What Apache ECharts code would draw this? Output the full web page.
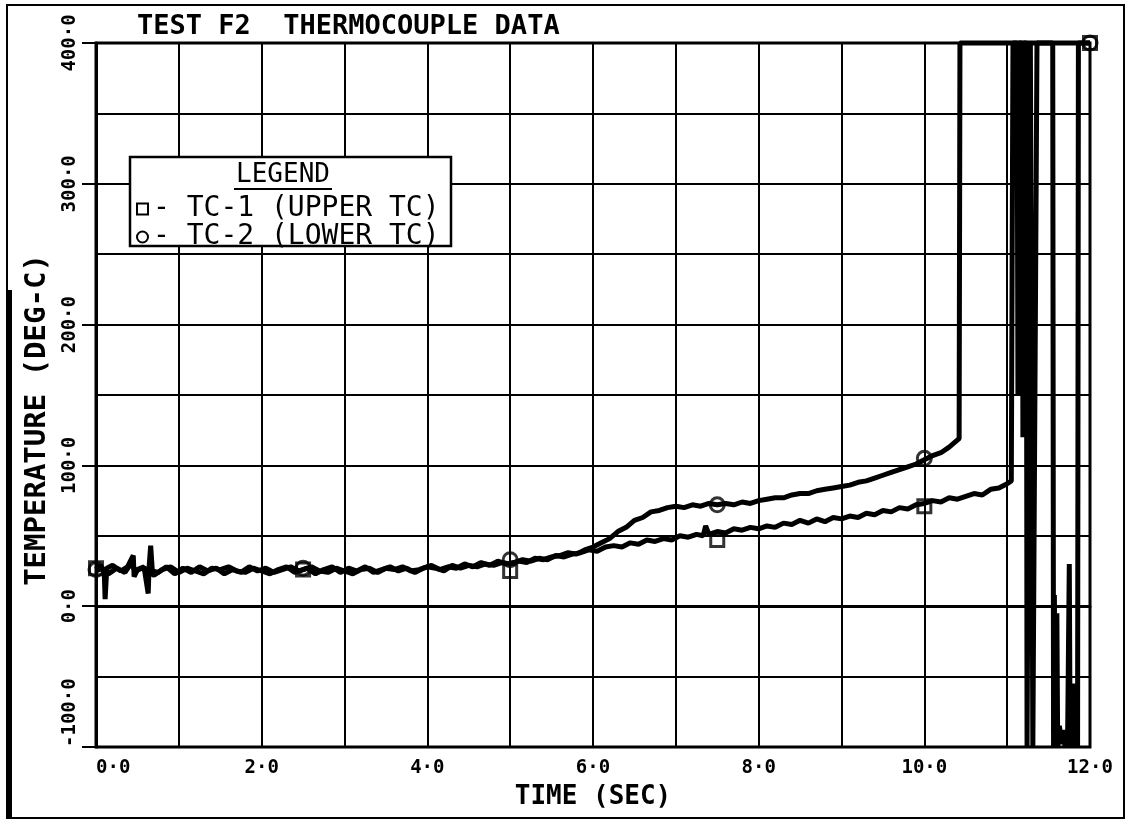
<!DOCTYPE html>
<html>
<head>
<meta charset="utf-8">
<title>TEST F2 THERMOCOUPLE DATA</title>
<script src="https://cdn.jsdelivr.net/npm/echarts@6/dist/echarts.min.js"></script>
<style>
  html, body { margin: 0; padding: 0; background: #fff; }
  #chart { width: 1129px; height: 822px; }
</style>
</head>
<body>
<div id="chart"></div>
<script>
// ---- Thermocouple readings: [time (s), temperature (deg C)] ----
// TC-1 (upper thermocouple)
const tc1Flat = [[0,26],[0.05,29],[0.1,24],[0.11,5],[0.13,27],[0.2,29],[0.3,25],[0.38,28],[0.45,36],[0.46,21],[0.5,26],[0.58,28],[0.63,9],[0.64,27],[0.66,43],[0.68,25],[0.75,24],[0.85,28],[0.95,23],[1.05,27],[1.15,24],[1.25,28],[1.35,25],[1.45,27],[1.55,23],[1.65,26],[1.75,24],[1.85,28],[1.95,25],[2.05,27],[2.15,24],[2.25,26],[2.35,28],[2.45,25],[2.55,27],[2.65,23],[2.75,26],[2.85,28],[2.95,24],[3.05,27],[3.15,25],[3.25,28],[3.35,24],[3.45,26],[3.55,28],[3.65,25],[3.75,27],[3.85,24],[3.95,27],[4.05,29],[4.15,26],[4.25,28],[4.35,27],[4.45,30],[4.55,28],[4.65,31],[4.75,29],[4.85,32],[4.95,30]];
const tc1Rise = [[5.05,31],[5.15,33],[5.25,32],[5.35,34],[5.45,33],[5.55,36],[5.65,35],[5.75,37],[5.85,38],[5.95,40],[6.05,39],[6.15,42],[6.25,43],[6.35,42],[6.45,45],[6.55,44],[6.65,47],[6.75,46],[6.85,48],[6.95,47],[7.05,50],[7.15,49],[7.25,51],[7.33,50],[7.36,57],[7.4,51],[7.5,53],[7.6,52],[7.7,55],[7.8,54],[7.9,56],[8.0,55],[8.1,57],[8.2,56],[8.3,59],[8.4,58],[8.5,61],[8.6,59],[8.7,62],[8.8,60],[8.9,63],[9.0,62],[9.1,64],[9.2,63],[9.3,66],[9.4,65],[9.5,68],[9.6,67],[9.7,70],[9.8,69],[9.9,72],[10.0,73],[10.1,75],[10.2,74],[10.3,77],[10.4,76],[10.5,78],[10.6,80],[10.7,79],[10.8,83],[10.9,84],[11.0,87],[11.05,89]];
const tc1Burst = [[11.07,400],[11.12,400],[11.13,150],[11.14,400],[11.18,400],[11.19,120],[11.2,400],[11.23,400],[11.24,-100],[11.26,-100],[11.28,400],[11.3,400],[11.31,-100],[11.33,-100],[11.36,400],[11.55,400],[11.56,-100],[11.57,8],[11.58,-100],[11.6,-5],[11.61,-100],[11.63,-85],[11.66,-98],[11.68,-88],[11.7,-100],[11.73,-92],[11.75,30],[11.76,-100],[11.79,-55],[11.81,-100],[11.84,-92],[11.85,-100],[11.86,400],[12,400]];
const tc1Marks = [[0,27],[2.5,26],[5,25],[7.5,47],[10,71],[12,400]];

// TC-2 (lower thermocouple)
const tc2Flat = [[0,25],[0.08,27],[0.15,23],[0.25,27],[0.35,24],[0.42,30],[0.48,25],[0.55,27],[0.7,22],[0.8,26],[0.9,28],[1.0,24],[1.1,27],[1.2,25],[1.3,23],[1.4,27],[1.5,26],[1.6,28],[1.7,25],[1.8,24],[1.9,27],[2.0,25],[2.1,23],[2.2,26],[2.3,28],[2.4,24],[2.5,26],[2.6,28],[2.7,25],[2.8,24],[2.9,27],[3.0,25],[3.1,23],[3.2,26],[3.3,27],[3.4,24],[3.5,27],[3.6,26],[3.7,28],[3.8,25],[3.9,26],[4.0,28],[4.1,27],[4.2,25],[4.3,29],[4.4,27],[4.5,29],[4.6,28],[4.7,30],[4.8,29],[4.9,31],[5.0,30]];
const tc2Rise = [[5.1,32],[5.2,31],[5.3,34],[5.4,33],[5.5,35],[5.6,36],[5.7,38],[5.8,37],[5.9,40],[6.0,42],[6.1,45],[6.2,48],[6.3,53],[6.4,56],[6.5,61],[6.6,63],[6.7,67],[6.8,68],[6.9,70],[7.0,71],[7.1,70],[7.2,72],[7.3,71],[7.4,73],[7.5,72],[7.6,73],[7.7,72],[7.8,74],[7.9,73],[8.0,75],[8.1,76],[8.2,77],[8.3,77],[8.4,79],[8.5,80],[8.6,80],[8.7,82],[8.8,83],[8.9,84],[9.0,85],[9.1,86],[9.2,88],[9.3,89],[9.4,91],[9.5,93],[9.6,95],[9.7,97],[9.8,99],[9.9,101],[10.0,104],[10.1,107],[10.2,109],[10.3,113],[10.38,117],[10.42,119]];
const tc2Burst = [[10.43,400],[12,400]];
const tc2Marks = [[0,26],[2.5,27],[5,33],[7.5,72],[10,105],[12,400]];

// ---- Axis tick labels ----
const xTickLabels = ['0·0','2·0','4·0','6·0','8·0','10·0','12·0'];
const yTickLabels = ['-100·0','0·0','100·0','200·0','300·0','400·0'];
const seriesNames = ['TC-1 (UPPER TC)', 'TC-2 (LOWER TC)'];

const X_MIN = 0, X_MAX = 12, X_STEP = 2;
const Y_MIN = -100, Y_MAX = 400, Y_STEP = 100;
const FONT = 'DejaVu Sans Mono';
const INK = '#000';

const tc1 = tc1Flat.concat(tc1Rise, tc1Burst);
const tc2 = tc2Flat.concat(tc2Rise, tc2Burst);

const chart = echarts.init(document.getElementById('chart'), null, { renderer: 'canvas' });

const gridLine = { show: true, lineStyle: { color: INK, width: 2 } };

const option = {
  animation: false,
  backgroundColor: '#fff',
  title: {
    text: 'TEST F2  THERMOCOUPLE DATA',
    left: 132, top: 8,
    textStyle: { fontFamily: FONT, fontSize: 27, fontWeight: 'bold', color: INK }
  },
  grid: {
    left: 96, right: 39, top: 43, bottom: 75,
    show: true, borderColor: INK, borderWidth: 3
  },
  xAxis: {
    type: 'value', min: X_MIN, max: X_MAX, interval: X_STEP,
    name: 'TIME (SEC)', nameLocation: 'middle', nameGap: 37,
    nameTextStyle: { fontFamily: FONT, fontSize: 26, fontWeight: 'bold', color: INK },
    axisLine: { show: true, lineStyle: { color: INK, width: 3 } },
    axisTick: { show: true, length: 10, lineStyle: { color: INK, width: 2 } },
    axisLabel: {
      fontFamily: FONT, fontSize: 19, fontWeight: 'bold', color: INK, margin: 12,
      alignMinLabel: 'left',
      formatter: v => xTickLabels[Math.round((v - X_MIN) / X_STEP)]
    },
    splitLine: gridLine,
    minorTick: { show: false, splitNumber: 2 },
    minorSplitLine: gridLine
  },
  yAxis: {
    type: 'value', min: Y_MIN, max: Y_MAX, interval: Y_STEP,
    name: 'TEMPERATURE (DEG-C)', nameLocation: 'middle', nameGap: 44,
    nameTextStyle: { fontFamily: FONT, fontSize: 29, fontWeight: 'bold', color: INK, padding: [0, 50, 0, 0] },
    axisLine: { show: true, lineStyle: { color: INK, width: 3 } },
    axisTick: { show: true, length: 14, lineStyle: { color: INK, width: 2 } },
    axisLabel: {
      rotate: 90, fontFamily: FONT, fontSize: 19, fontWeight: 'bold', color: INK, margin: 16,
      alignMinLabel: 'left',
      formatter: v => yTickLabels[Math.round((v - Y_MIN) / Y_STEP)]
    },
    splitLine: gridLine,
    minorTick: { show: false, splitNumber: 2 },
    minorSplitLine: gridLine
  },
  legend: {
    orient: 'vertical', left: 136, top: 195, z: 10, padding: 0,
    itemWidth: 11, itemHeight: 11, itemGap: 0,
    data: [
      { name: seriesNames[0], icon: 'rect' },
      { name: seriesNames[1], icon: 'circle' }
    ],
    itemStyle: { color: '#fff', borderColor: INK, borderWidth: 2 },
    formatter: n => '- ' + n,
    textStyle: { fontFamily: FONT, fontSize: 28, color: INK, lineHeight: 27 },
    selectedMode: false
  },
  graphic: [
    // page frame and the heavy binding edge on the left
    { type: 'rect', z: 0, shape: { x: 7, y: 5, width: 1117, height: 813 },
      style: { fill: 'none', stroke: INK, lineWidth: 2 } },
    { type: 'line', z: 0, shape: { x1: 9, y1: 290, x2: 9, y2: 818 },
      style: { stroke: INK, lineWidth: 6 } },
    // legend panel
    { type: 'rect', z: 3, shape: { x: 130, y: 157, width: 321, height: 89 },
      style: { fill: '#fff', stroke: INK, lineWidth: 2.5 } },
    { type: 'text', z: 4, x: 283, y: 175,
      style: { text: 'LEGEND', fontFamily: FONT, fontSize: 26, fill: INK,
               align: 'center', verticalAlign: 'middle' } },
    { type: 'line', z: 4, shape: { x1: 234, y1: 189, x2: 332, y2: 189 },
      style: { stroke: INK, lineWidth: 2 } }
  ],
  series: [
    {
      name: seriesNames[0], type: 'line', data: tc1, clip: false,
      showSymbol: false, lineStyle: { color: INK, width: 5 }, itemStyle: { color: INK },
      z: 3
    },
    {
      name: seriesNames[1], type: 'line', data: tc2, clip: false,
      showSymbol: false, lineStyle: { color: INK, width: 5 }, itemStyle: { color: INK },
      z: 3
    },
    {
      name: seriesNames[0], type: 'scatter', data: tc1Marks, clip: false,
      symbol: 'rect', symbolSize: 13,
      itemStyle: { color: 'rgba(0,0,0,0)', borderColor: INK, borderWidth: 3 }, z: 4
    },
    {
      name: seriesNames[1], type: 'scatter', data: tc2Marks, clip: false,
      symbol: 'circle', symbolSize: 14,
      itemStyle: { color: 'rgba(0,0,0,0)', borderColor: INK, borderWidth: 3 }, z: 4
    }
  ]
};

chart.setOption(option);
</script>
</body>
</html>
